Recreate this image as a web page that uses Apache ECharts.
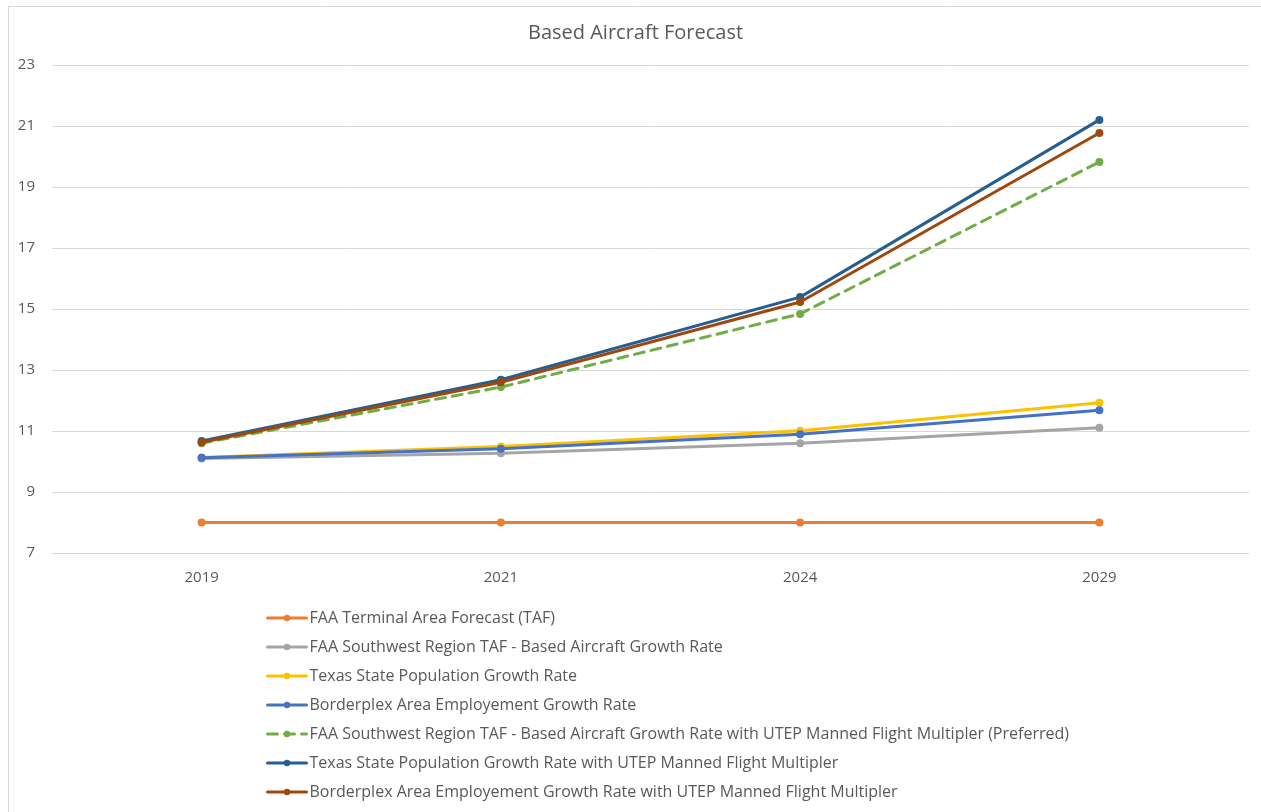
<!DOCTYPE html>
<html>
<head>
<meta charset="utf-8">
<script src="https://cdn.jsdelivr.net/npm/echarts@6/dist/echarts.min.js"></script>
<style>
  html, body { margin: 0; padding: 0; background: #fff; }
  #chart { width: 1261px; height: 812px; }
</style>
</head>
<body>
<div id="chart"></div>
<script>
// Forecast years
const years = ['2019', '2021', '2024', '2029'];

// Based aircraft counts per scenario
const faaTaf = [8, 8, 8, 8];
const swRegionGrowth = [10.10, 10.27, 10.60, 11.11];
const texasPopGrowth = [10.13, 10.49, 11.01, 11.93];
const borderplexEmpGrowth = [10.12, 10.42, 10.89, 11.68];
const swRegionUtep = [10.60, 12.44, 14.84, 19.82];
const texasPopUtep = [10.67, 12.68, 15.39, 21.20];
const borderplexEmpUtep = [10.63, 12.60, 15.23, 20.77];

const seriesNames = [
  'FAA Terminal Area Forecast (TAF)',
  'FAA Southwest Region TAF - Based Aircraft Growth Rate',
  'Texas State Population Growth Rate',
  'Borderplex Area Employement Growth Rate',
  'FAA Southwest Region TAF - Based Aircraft Growth Rate with UTEP Manned Flight Multipler (Preferred)',
  'Texas State Population Growth Rate with UTEP Manned Flight Multipler',
  'Borderplex Area Employement Growth Rate with UTEP Manned Flight Multipler'
];
const seriesData = [faaTaf, swRegionGrowth, texasPopGrowth, borderplexEmpGrowth, swRegionUtep, texasPopUtep, borderplexEmpUtep];
const seriesColors = ['#ED7D31', '#A5A5A5', '#FFC000', '#4472C4', '#70AD47', '#255E91', '#9E480E'];

const textColor = '#595959';
const font = '"Open Sans", "Noto Sans", sans-serif';

const chart = echarts.init(document.getElementById('chart'), null, { renderer: 'canvas' });

const series = seriesNames.map((name, i) => ({
  name: name,
  type: 'line',
  data: seriesData[i],
  symbol: 'circle',
  symbolSize: 8,
  color: seriesColors[i],
  lineStyle: {
    width: 3,
    color: seriesColors[i],
    type: i === 4 ? [10, 7] : 'solid',
    cap: 'round'
  },
  itemStyle: { color: seriesColors[i] },
  z: 10 + i,
  animation: false
}));

chart.setOption({
  animation: false,
  backgroundColor: '#ffffff',
  textStyle: { fontFamily: font },
  title: {
    text: 'Based Aircraft Forecast',
    left: 528,
    top: 23,
    padding: 0,
    textStyle: { color: textColor, fontSize: 20, fontWeight: 'normal', fontFamily: font }
  },
  graphic: [
    { type: 'line', shape: { x1: 8, y1: 6.5, x2: 1261, y2: 6.5 }, style: { stroke: '#d9d9d9', lineWidth: 1 }, silent: true },
    { type: 'line', shape: { x1: 8.5, y1: 6, x2: 8.5, y2: 812 }, style: { stroke: '#d9d9d9', lineWidth: 1 }, silent: true }
  ],
  grid: { left: 52, right: 12, top: 65, bottom: 259, containLabel: false },
  legend: {
    orient: 'vertical',
    left: 266,
    top: 610,
    padding: 0,
    height: 200,
    itemWidth: 39,
    itemHeight: 8,
    itemGap: 13,
    lineStyle: { width: 3 },
    textStyle: { color: textColor, fontSize: 16, fontFamily: font, padding: [0, 0, 0, -2] },
    data: seriesNames
  },
  xAxis: {
    type: 'category',
    data: years,
    boundaryGap: true,
    axisLine: { show: true, lineStyle: { color: '#d9d9d9', width: 1 } },
    axisTick: { show: false },
    axisLabel: { color: textColor, fontSize: 15, margin: 17, fontFamily: font }
  },
  yAxis: {
    type: 'value',
    min: 7,
    max: 23,
    interval: 2,
    axisLine: { show: false },
    axisTick: { show: false },
    axisLabel: { color: textColor, fontSize: 15, margin: 17, fontFamily: font },
    splitLine: { lineStyle: { color: '#d9d9d9', width: 1 } }
  },
  series: series
});
</script>
</body>
</html>
